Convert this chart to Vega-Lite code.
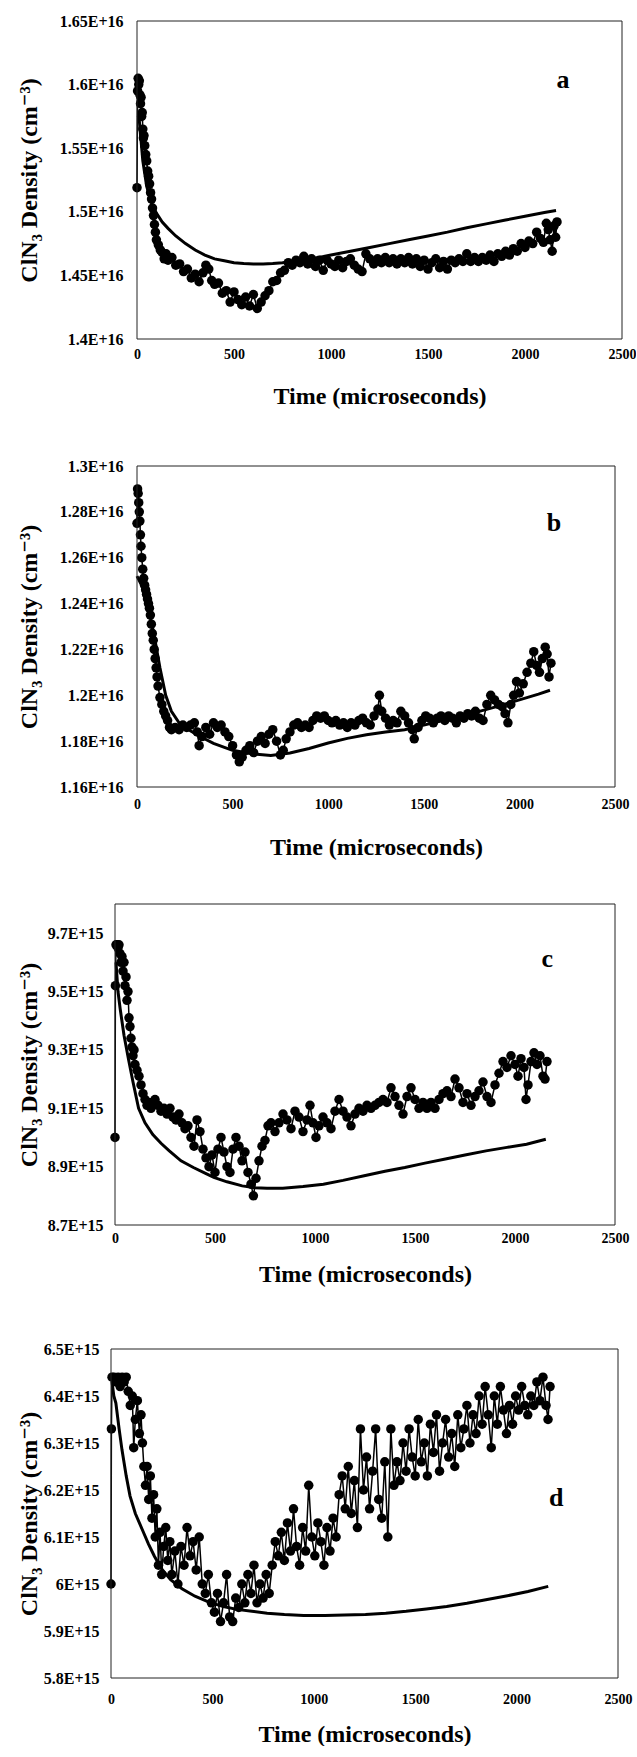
{
  "$schema": "https://vega.github.io/schema/vega-lite/v6.json",
  "background": "white",
  "padding": {"left": 17, "top": 13, "right": 0, "bottom": 0},
  "config": {
    "font": "Liberation Serif",
    "view": {"stroke": null},
    "axis": {
      "grid": false,
      "domain": false,
      "ticks": false,
      "labelFont": "Liberation Serif",
      "labelFontWeight": "bold",
      "labelColor": "black",
      "labelOverlap": false,
      "titleFont": "Liberation Serif, DejaVu Serif",
      "titleFontWeight": "bold",
      "titleFontSize": 24,
      "titleColor": "black"
    },
    "axisX": {"labelFontSize": 14, "labelFlush": false, "format": "d"},
    "axisY": {"labelFontSize": 16}
  },
  "datasets": {
    "obsA": [
      {"t":0,"v":1.519e16},{"t":3,"v":1.595e16},{"t":6,"v":1.605e16},{"t":9,"v":1.600e16},{"t":12,"v":1.603e16},
      {"t":15,"v":1.592e16},{"t":18,"v":1.585e16},{"t":21,"v":1.590e16},{"t":24,"v":1.575e16},{"t":27,"v":1.578e16},
      {"t":30,"v":1.565e16},{"t":33,"v":1.558e16},{"t":36,"v":1.560e16},{"t":40,"v":1.552e16},{"t":45,"v":1.545e16},
      {"t":50,"v":1.540e16},{"t":55,"v":1.532e16},{"t":60,"v":1.528e16},{"t":65,"v":1.522e16},{"t":70,"v":1.515e16},
      {"t":75,"v":1.510e16},{"t":80,"v":1.503e16},{"t":85,"v":1.497e16},{"t":90,"v":1.490e16},{"t":95,"v":1.484e16},
      {"t":100,"v":1.478e16},{"t":110,"v":1.474e16},{"t":120,"v":1.470e16},{"t":130,"v":1.468e16},{"t":140,"v":1.463e16},
      {"t":150,"v":1.467e16},{"t":160,"v":1.462e16},{"t":180,"v":1.464e16},{"t":200,"v":1.458e16},{"t":220,"v":1.459e16},
      {"t":240,"v":1.453e16},{"t":260,"v":1.455e16},{"t":280,"v":1.448e16},{"t":300,"v":1.451e16},{"t":320,"v":1.445e16},
      {"t":340,"v":1.452e16},{"t":355,"v":1.458e16},{"t":370,"v":1.455e16},{"t":385,"v":1.446e16},{"t":400,"v":1.443e16},
      {"t":420,"v":1.444e16},{"t":440,"v":1.436e16},{"t":460,"v":1.438e16},{"t":480,"v":1.429e16},{"t":500,"v":1.437e16},
      {"t":520,"v":1.431e16},{"t":540,"v":1.427e16},{"t":560,"v":1.433e16},{"t":580,"v":1.426e16},{"t":600,"v":1.435e16},
      {"t":620,"v":1.424e16},{"t":640,"v":1.429e16},{"t":660,"v":1.434e16},{"t":680,"v":1.438e16},{"t":700,"v":1.445e16},
      {"t":720,"v":1.446e16},{"t":740,"v":1.452e16},{"t":760,"v":1.454e16},{"t":780,"v":1.460e16},{"t":800,"v":1.458e16},
      {"t":820,"v":1.462e16},{"t":840,"v":1.460e16},{"t":860,"v":1.465e16},{"t":880,"v":1.459e16},{"t":900,"v":1.463e16},
      {"t":920,"v":1.457e16},{"t":940,"v":1.462e16},{"t":960,"v":1.454e16},{"t":980,"v":1.462e16},{"t":1000,"v":1.459e16},
      {"t":1020,"v":1.457e16},{"t":1040,"v":1.462e16},{"t":1060,"v":1.456e16},{"t":1080,"v":1.461e16},{"t":1100,"v":1.463e16},
      {"t":1120,"v":1.458e16},{"t":1140,"v":1.455e16},{"t":1160,"v":1.453e16},{"t":1180,"v":1.467e16},{"t":1200,"v":1.463e16},
      {"t":1220,"v":1.459e16},{"t":1240,"v":1.463e16},{"t":1260,"v":1.460e16},{"t":1280,"v":1.464e16},{"t":1300,"v":1.460e16},
      {"t":1320,"v":1.463e16},{"t":1340,"v":1.459e16},{"t":1360,"v":1.463e16},{"t":1380,"v":1.460e16},{"t":1400,"v":1.464e16},
      {"t":1420,"v":1.459e16},{"t":1440,"v":1.463e16},{"t":1460,"v":1.457e16},{"t":1480,"v":1.462e16},{"t":1500,"v":1.455e16},
      {"t":1520,"v":1.460e16},{"t":1540,"v":1.463e16},{"t":1560,"v":1.456e16},{"t":1580,"v":1.461e16},{"t":1600,"v":1.455e16},
      {"t":1620,"v":1.462e16},{"t":1640,"v":1.460e16},{"t":1660,"v":1.463e16},{"t":1680,"v":1.461e16},{"t":1700,"v":1.467e16},
      {"t":1720,"v":1.461e16},{"t":1740,"v":1.464e16},{"t":1760,"v":1.461e16},{"t":1780,"v":1.464e16},{"t":1800,"v":1.462e16},
      {"t":1820,"v":1.466e16},{"t":1840,"v":1.461e16},{"t":1860,"v":1.467e16},{"t":1880,"v":1.465e16},{"t":1900,"v":1.469e16},
      {"t":1920,"v":1.466e16},{"t":1940,"v":1.471e16},{"t":1960,"v":1.469e16},{"t":1980,"v":1.475e16},{"t":2000,"v":1.472e16},
      {"t":2020,"v":1.477e16},{"t":2040,"v":1.475e16},{"t":2060,"v":1.484e16},{"t":2080,"v":1.479e16},{"t":2095,"v":1.476e16},
      {"t":2110,"v":1.491e16},{"t":2120,"v":1.486e16},{"t":2130,"v":1.478e16},{"t":2140,"v":1.469e16},{"t":2150,"v":1.489e16},
      {"t":2158,"v":1.480e16},{"t":2165,"v":1.492e16}
    ],
    "fitA": [
      {"t":10,"v":1.575e16},{"t":30,"v":1.540e16},{"t":50,"v":1.520e16},{"t":75,"v":1.507e16},{"t":100,"v":1.499e16},
      {"t":130,"v":1.492e16},{"t":160,"v":1.487e16},{"t":200,"v":1.481e16},{"t":250,"v":1.475e16},{"t":300,"v":1.470e16},
      {"t":350,"v":1.466e16},{"t":400,"v":1.463e16},{"t":450,"v":1.4615e16},{"t":500,"v":1.460e16},{"t":550,"v":1.4593e16},
      {"t":600,"v":1.459e16},{"t":650,"v":1.459e16},{"t":700,"v":1.4593e16},{"t":750,"v":1.460e16},{"t":800,"v":1.461e16},
      {"t":900,"v":1.463e16},{"t":1000,"v":1.466e16},{"t":1100,"v":1.469e16},{"t":1200,"v":1.472e16},{"t":1300,"v":1.475e16},
      {"t":1400,"v":1.478e16},{"t":1500,"v":1.481e16},{"t":1600,"v":1.484e16},{"t":1700,"v":1.4875e16},{"t":1800,"v":1.4905e16},
      {"t":1900,"v":1.4935e16},{"t":2000,"v":1.4965e16},{"t":2100,"v":1.4995e16},{"t":2160,"v":1.501e16}
    ],
    "obsB": [
      {"t":0,"v":1.275e16},{"t":3,"v":1.290e16},{"t":6,"v":1.288e16},{"t":9,"v":1.284e16},{"t":12,"v":1.280e16},
      {"t":15,"v":1.276e16},{"t":18,"v":1.270e16},{"t":21,"v":1.265e16},{"t":25,"v":1.260e16},{"t":30,"v":1.255e16},
      {"t":35,"v":1.251e16},{"t":40,"v":1.248e16},{"t":45,"v":1.246e16},{"t":50,"v":1.244e16},{"t":55,"v":1.242e16},
      {"t":60,"v":1.240e16},{"t":65,"v":1.238e16},{"t":70,"v":1.235e16},{"t":75,"v":1.231e16},{"t":80,"v":1.227e16},
      {"t":85,"v":1.224e16},{"t":90,"v":1.220e16},{"t":95,"v":1.216e16},{"t":100,"v":1.212e16},{"t":105,"v":1.208e16},
      {"t":110,"v":1.204e16},{"t":120,"v":1.199e16},{"t":130,"v":1.196e16},{"t":140,"v":1.193e16},{"t":150,"v":1.191e16},
      {"t":160,"v":1.189e16},{"t":170,"v":1.186e16},{"t":180,"v":1.185e16},{"t":200,"v":1.186e16},{"t":220,"v":1.185e16},
      {"t":240,"v":1.187e16},{"t":260,"v":1.186e16},{"t":280,"v":1.187e16},{"t":300,"v":1.188e16},{"t":315,"v":1.184e16},
      {"t":325,"v":1.178e16},{"t":340,"v":1.182e16},{"t":360,"v":1.186e16},{"t":380,"v":1.183e16},{"t":400,"v":1.188e16},
      {"t":420,"v":1.186e16},{"t":440,"v":1.187e16},{"t":460,"v":1.184e16},{"t":480,"v":1.182e16},{"t":500,"v":1.178e16},
      {"t":520,"v":1.174e16},{"t":535,"v":1.171e16},{"t":550,"v":1.173e16},{"t":570,"v":1.176e16},{"t":590,"v":1.178e16},
      {"t":610,"v":1.175e16},{"t":630,"v":1.180e16},{"t":650,"v":1.182e16},{"t":670,"v":1.179e16},{"t":690,"v":1.183e16},
      {"t":710,"v":1.185e16},{"t":730,"v":1.180e16},{"t":750,"v":1.174e16},{"t":765,"v":1.176e16},{"t":780,"v":1.181e16},
      {"t":800,"v":1.184e16},{"t":820,"v":1.187e16},{"t":840,"v":1.188e16},{"t":860,"v":1.186e16},{"t":880,"v":1.187e16},
      {"t":900,"v":1.186e16},{"t":920,"v":1.189e16},{"t":940,"v":1.191e16},{"t":960,"v":1.190e16},{"t":980,"v":1.191e16},
      {"t":1000,"v":1.189e16},{"t":1020,"v":1.188e16},{"t":1040,"v":1.189e16},{"t":1060,"v":1.187e16},{"t":1080,"v":1.188e16},
      {"t":1100,"v":1.186e16},{"t":1120,"v":1.188e16},{"t":1140,"v":1.187e16},{"t":1160,"v":1.189e16},{"t":1180,"v":1.190e16},
      {"t":1200,"v":1.188e16},{"t":1220,"v":1.187e16},{"t":1240,"v":1.191e16},{"t":1260,"v":1.194e16},{"t":1268,"v":1.200e16},
      {"t":1280,"v":1.193e16},{"t":1300,"v":1.190e16},{"t":1320,"v":1.187e16},{"t":1340,"v":1.189e16},{"t":1360,"v":1.188e16},
      {"t":1380,"v":1.193e16},{"t":1400,"v":1.191e16},{"t":1420,"v":1.188e16},{"t":1440,"v":1.185e16},{"t":1450,"v":1.181e16},
      {"t":1470,"v":1.186e16},{"t":1490,"v":1.189e16},{"t":1510,"v":1.191e16},{"t":1530,"v":1.190e16},{"t":1550,"v":1.188e16},
      {"t":1570,"v":1.190e16},{"t":1590,"v":1.191e16},{"t":1610,"v":1.189e16},{"t":1630,"v":1.191e16},{"t":1650,"v":1.190e16},
      {"t":1670,"v":1.188e16},{"t":1690,"v":1.191e16},{"t":1710,"v":1.190e16},{"t":1730,"v":1.192e16},{"t":1750,"v":1.191e16},
      {"t":1770,"v":1.193e16},{"t":1790,"v":1.190e16},{"t":1810,"v":1.189e16},{"t":1830,"v":1.196e16},{"t":1850,"v":1.200e16},
      {"t":1870,"v":1.198e16},{"t":1890,"v":1.196e16},{"t":1910,"v":1.195e16},{"t":1925,"v":1.192e16},{"t":1940,"v":1.188e16},
      {"t":1955,"v":1.196e16},{"t":1970,"v":1.200e16},{"t":1985,"v":1.206e16},{"t":2000,"v":1.201e16},{"t":2020,"v":1.205e16},
      {"t":2040,"v":1.210e16},{"t":2060,"v":1.214e16},{"t":2075,"v":1.219e16},{"t":2090,"v":1.213e16},{"t":2105,"v":1.210e16},
      {"t":2120,"v":1.216e16},{"t":2135,"v":1.221e16},{"t":2145,"v":1.218e16},{"t":2155,"v":1.208e16},{"t":2165,"v":1.214e16}
    ],
    "fitB": [
      {"t":0,"v":1.252e16},{"t":30,"v":1.247e16},{"t":60,"v":1.238e16},{"t":90,"v":1.226e16},{"t":120,"v":1.212e16},
      {"t":150,"v":1.200e16},{"t":180,"v":1.193e16},{"t":220,"v":1.188e16},{"t":270,"v":1.185e16},{"t":330,"v":1.182e16},
      {"t":400,"v":1.179e16},{"t":500,"v":1.176e16},{"t":600,"v":1.1745e16},{"t":700,"v":1.1737e16},{"t":800,"v":1.1748e16},
      {"t":900,"v":1.1768e16},{"t":1000,"v":1.1792e16},{"t":1100,"v":1.1812e16},{"t":1200,"v":1.1828e16},{"t":1300,"v":1.1840e16},
      {"t":1400,"v":1.1850e16},{"t":1500,"v":1.1870e16},{"t":1600,"v":1.1890e16},{"t":1700,"v":1.1910e16},{"t":1800,"v":1.1932e16},
      {"t":1900,"v":1.1955e16},{"t":2000,"v":1.1980e16},{"t":2100,"v":1.2005e16},{"t":2160,"v":1.2022e16}
    ],
    "obsC": [
      {"t":0,"v":9.00e15},{"t":2,"v":9.52e15},{"t":5,"v":9.66e15},{"t":10,"v":9.66e15},{"t":15,"v":9.65e15},
      {"t":20,"v":9.66e15},{"t":25,"v":9.63e15},{"t":30,"v":9.60e15},{"t":35,"v":9.62e15},{"t":40,"v":9.57e15},
      {"t":45,"v":9.60e15},{"t":50,"v":9.52e15},{"t":55,"v":9.55e15},{"t":60,"v":9.47e15},{"t":65,"v":9.50e15},
      {"t":70,"v":9.41e15},{"t":75,"v":9.38e15},{"t":80,"v":9.34e15},{"t":85,"v":9.31e15},{"t":90,"v":9.28e15},
      {"t":95,"v":9.30e15},{"t":100,"v":9.25e15},{"t":110,"v":9.23e15},{"t":120,"v":9.21e15},{"t":130,"v":9.18e15},
      {"t":140,"v":9.15e15},{"t":150,"v":9.13e15},{"t":160,"v":9.11e15},{"t":170,"v":9.12e15},{"t":180,"v":9.10e15},
      {"t":190,"v":9.12e15},{"t":200,"v":9.13e15},{"t":215,"v":9.11e15},{"t":230,"v":9.09e15},{"t":245,"v":9.10e15},
      {"t":260,"v":9.08e15},{"t":275,"v":9.10e15},{"t":290,"v":9.07e15},{"t":305,"v":9.06e15},{"t":320,"v":9.08e15},
      {"t":335,"v":9.05e15},{"t":350,"v":9.03e15},{"t":365,"v":9.04e15},{"t":380,"v":9.00e15},{"t":395,"v":8.97e15},
      {"t":410,"v":9.06e15},{"t":425,"v":9.02e15},{"t":440,"v":8.96e15},{"t":455,"v":8.93e15},{"t":470,"v":8.90e15},
      {"t":485,"v":8.94e15},{"t":500,"v":8.88e15},{"t":515,"v":8.96e15},{"t":530,"v":9.00e15},{"t":545,"v":8.95e15},
      {"t":560,"v":8.90e15},{"t":575,"v":8.88e15},{"t":590,"v":8.96e15},{"t":605,"v":9.00e15},{"t":620,"v":8.97e15},
      {"t":635,"v":8.92e15},{"t":650,"v":8.95e15},{"t":665,"v":8.88e15},{"t":680,"v":8.84e15},{"t":692,"v":8.80e15},
      {"t":705,"v":8.86e15},{"t":720,"v":8.92e15},{"t":735,"v":8.97e15},{"t":750,"v":8.99e15},{"t":765,"v":9.04e15},
      {"t":780,"v":9.05e15},{"t":800,"v":9.02e15},{"t":820,"v":9.05e15},{"t":840,"v":9.08e15},{"t":860,"v":9.06e15},
      {"t":880,"v":9.03e15},{"t":900,"v":9.09e15},{"t":920,"v":9.07e15},{"t":940,"v":9.02e15},{"t":960,"v":9.06e15},
      {"t":975,"v":9.11e15},{"t":990,"v":9.05e15},{"t":1005,"v":9.00e15},{"t":1020,"v":9.04e15},{"t":1040,"v":9.07e15},
      {"t":1060,"v":9.05e15},{"t":1080,"v":9.03e15},{"t":1100,"v":9.09e15},{"t":1120,"v":9.13e15},{"t":1140,"v":9.09e15},
      {"t":1160,"v":9.07e15},{"t":1180,"v":9.04e15},{"t":1200,"v":9.08e15},{"t":1220,"v":9.10e15},{"t":1240,"v":9.09e15},
      {"t":1260,"v":9.11e15},{"t":1280,"v":9.10e15},{"t":1300,"v":9.11e15},{"t":1320,"v":9.12e15},{"t":1340,"v":9.13e15},
      {"t":1360,"v":9.12e15},{"t":1380,"v":9.17e15},{"t":1400,"v":9.14e15},{"t":1420,"v":9.11e15},{"t":1440,"v":9.08e15},
      {"t":1460,"v":9.14e15},{"t":1480,"v":9.17e15},{"t":1500,"v":9.13e15},{"t":1520,"v":9.10e15},{"t":1540,"v":9.12e15},
      {"t":1560,"v":9.10e15},{"t":1580,"v":9.12e15},{"t":1600,"v":9.10e15},{"t":1620,"v":9.13e15},{"t":1640,"v":9.15e15},
      {"t":1660,"v":9.16e15},{"t":1680,"v":9.14e15},{"t":1700,"v":9.20e15},{"t":1720,"v":9.17e15},{"t":1740,"v":9.12e15},
      {"t":1760,"v":9.15e15},{"t":1780,"v":9.11e15},{"t":1800,"v":9.14e15},{"t":1820,"v":9.16e15},{"t":1840,"v":9.19e15},
      {"t":1860,"v":9.14e15},{"t":1880,"v":9.12e15},{"t":1900,"v":9.18e15},{"t":1920,"v":9.22e15},{"t":1940,"v":9.26e15},
      {"t":1960,"v":9.24e15},{"t":1980,"v":9.28e15},{"t":2000,"v":9.25e15},{"t":2015,"v":9.21e15},{"t":2030,"v":9.27e15},
      {"t":2045,"v":9.24e15},{"t":2055,"v":9.13e15},{"t":2065,"v":9.18e15},{"t":2080,"v":9.26e15},{"t":2095,"v":9.29e15},
      {"t":2110,"v":9.25e15},{"t":2125,"v":9.28e15},{"t":2140,"v":9.21e15},{"t":2150,"v":9.20e15},{"t":2160,"v":9.26e15}
    ],
    "fitC": [
      {"t":5,"v":9.60e15},{"t":15,"v":9.50e15},{"t":26,"v":9.44e15},{"t":45,"v":9.35e15},{"t":67,"v":9.27e15},
      {"t":90,"v":9.19e15},{"t":118,"v":9.10e15},{"t":150,"v":9.05e15},{"t":189,"v":9.01e15},{"t":230,"v":8.98e15},
      {"t":270,"v":8.955e15},{"t":330,"v":8.92e15},{"t":392,"v":8.897e15},{"t":450,"v":8.878e15},{"t":494,"v":8.863e15},
      {"t":560,"v":8.848e15},{"t":636,"v":8.834e15},{"t":700,"v":8.828e15},{"t":760,"v":8.826e15},{"t":839,"v":8.826e15},
      {"t":940,"v":8.832e15},{"t":1042,"v":8.840e15},{"t":1140,"v":8.853e15},{"t":1246,"v":8.869e15},{"t":1350,"v":8.884e15},
      {"t":1449,"v":8.897e15},{"t":1550,"v":8.912e15},{"t":1652,"v":8.926e15},{"t":1750,"v":8.940e15},{"t":1855,"v":8.954e15},
      {"t":1960,"v":8.966e15},{"t":2058,"v":8.977e15},{"t":2154,"v":8.994e15}
    ],
    "obsD": [
      {"t":0,"v":6.00e15},{"t":2,"v":6.33e15},{"t":5,"v":6.44e15},{"t":15,"v":6.44e15},{"t":25,"v":6.43e15},
      {"t":35,"v":6.44e15},{"t":45,"v":6.42e15},{"t":55,"v":6.44e15},{"t":65,"v":6.43e15},{"t":75,"v":6.44e15},
      {"t":85,"v":6.41e15},{"t":95,"v":6.38e15},{"t":105,"v":6.40e15},{"t":112,"v":6.29e15},{"t":120,"v":6.35e15},
      {"t":130,"v":6.39e15},{"t":140,"v":6.32e15},{"t":148,"v":6.36e15},{"t":155,"v":6.30e15},{"t":162,"v":6.25e15},
      {"t":170,"v":6.21e15},{"t":178,"v":6.25e15},{"t":186,"v":6.18e15},{"t":194,"v":6.23e15},{"t":202,"v":6.14e15},
      {"t":210,"v":6.19e15},{"t":218,"v":6.10e15},{"t":226,"v":6.16e15},{"t":234,"v":6.04e15},{"t":242,"v":6.11e15},
      {"t":250,"v":6.02e15},{"t":260,"v":6.08e15},{"t":270,"v":6.12e15},{"t":280,"v":6.05e15},{"t":290,"v":6.09e15},
      {"t":300,"v":6.02e15},{"t":315,"v":6.07e15},{"t":330,"v":6.00e15},{"t":345,"v":6.08e15},{"t":360,"v":6.04e15},
      {"t":375,"v":6.12e15},{"t":390,"v":6.06e15},{"t":405,"v":6.09e15},{"t":420,"v":6.03e15},{"t":435,"v":6.10e15},
      {"t":450,"v":6.00e15},{"t":465,"v":5.98e15},{"t":480,"v":6.02e15},{"t":495,"v":5.96e15},{"t":510,"v":5.94e15},
      {"t":525,"v":5.98e15},{"t":540,"v":5.92e15},{"t":555,"v":5.96e15},{"t":570,"v":6.02e15},{"t":585,"v":5.93e15},
      {"t":600,"v":5.92e15},{"t":615,"v":5.97e15},{"t":630,"v":5.95e15},{"t":645,"v":6.00e15},{"t":660,"v":5.96e15},
      {"t":675,"v":6.02e15},{"t":690,"v":5.98e15},{"t":705,"v":6.04e15},{"t":720,"v":5.96e15},{"t":735,"v":6.00e15},
      {"t":750,"v":5.97e15},{"t":765,"v":6.02e15},{"t":780,"v":5.98e15},{"t":795,"v":6.04e15},{"t":810,"v":6.09e15},
      {"t":825,"v":6.06e15},{"t":840,"v":6.11e15},{"t":855,"v":6.05e15},{"t":870,"v":6.13e15},{"t":885,"v":6.07e15},
      {"t":900,"v":6.16e15},{"t":915,"v":6.08e15},{"t":930,"v":6.04e15},{"t":945,"v":6.12e15},{"t":960,"v":6.07e15},
      {"t":975,"v":6.21e15},{"t":990,"v":6.10e15},{"t":1005,"v":6.06e15},{"t":1020,"v":6.13e15},{"t":1035,"v":6.09e15},
      {"t":1050,"v":6.04e15},{"t":1065,"v":6.12e15},{"t":1080,"v":6.07e15},{"t":1095,"v":6.14e15},{"t":1110,"v":6.10e15},
      {"t":1125,"v":6.19e15},{"t":1140,"v":6.23e15},{"t":1155,"v":6.16e15},{"t":1170,"v":6.25e15},{"t":1185,"v":6.15e15},
      {"t":1200,"v":6.22e15},{"t":1215,"v":6.12e15},{"t":1230,"v":6.33e15},{"t":1245,"v":6.20e15},{"t":1260,"v":6.27e15},
      {"t":1275,"v":6.16e15},{"t":1290,"v":6.24e15},{"t":1305,"v":6.33e15},{"t":1320,"v":6.18e15},{"t":1335,"v":6.14e15},
      {"t":1350,"v":6.26e15},{"t":1365,"v":6.10e15},{"t":1380,"v":6.33e15},{"t":1395,"v":6.21e15},{"t":1410,"v":6.26e15},
      {"t":1425,"v":6.22e15},{"t":1440,"v":6.30e15},{"t":1455,"v":6.24e15},{"t":1470,"v":6.33e15},{"t":1485,"v":6.27e15},
      {"t":1500,"v":6.23e15},{"t":1515,"v":6.35e15},{"t":1530,"v":6.26e15},{"t":1545,"v":6.30e15},{"t":1560,"v":6.23e15},
      {"t":1575,"v":6.34e15},{"t":1590,"v":6.28e15},{"t":1605,"v":6.36e15},{"t":1620,"v":6.24e15},{"t":1635,"v":6.30e15},
      {"t":1650,"v":6.35e15},{"t":1665,"v":6.27e15},{"t":1680,"v":6.32e15},{"t":1695,"v":6.25e15},{"t":1710,"v":6.36e15},
      {"t":1725,"v":6.29e15},{"t":1740,"v":6.33e15},{"t":1755,"v":6.38e15},{"t":1770,"v":6.30e15},{"t":1785,"v":6.36e15},
      {"t":1800,"v":6.32e15},{"t":1815,"v":6.40e15},{"t":1830,"v":6.34e15},{"t":1845,"v":6.42e15},{"t":1860,"v":6.36e15},
      {"t":1875,"v":6.29e15},{"t":1890,"v":6.40e15},{"t":1905,"v":6.34e15},{"t":1920,"v":6.42e15},{"t":1935,"v":6.37e15},
      {"t":1950,"v":6.32e15},{"t":1965,"v":6.38e15},{"t":1980,"v":6.34e15},{"t":1995,"v":6.40e15},{"t":2010,"v":6.37e15},
      {"t":2025,"v":6.42e15},{"t":2040,"v":6.38e15},{"t":2055,"v":6.36e15},{"t":2070,"v":6.40e15},{"t":2085,"v":6.38e15},
      {"t":2100,"v":6.43e15},{"t":2115,"v":6.39e15},{"t":2130,"v":6.44e15},{"t":2145,"v":6.38e15},{"t":2155,"v":6.35e15},
      {"t":2165,"v":6.42e15}
    ],
    "fitD": [
      {"t":5,"v":6.43e15},{"t":14,"v":6.40e15},{"t":24,"v":6.385e15},{"t":40,"v":6.33e15},{"t":54,"v":6.286e15},
      {"t":75,"v":6.23e15},{"t":94,"v":6.187e15},{"t":120,"v":6.15e15},{"t":154,"v":6.116e15},{"t":185,"v":6.085e15},
      {"t":214,"v":6.059e15},{"t":250,"v":6.032e15},{"t":294,"v":6.009e15},{"t":350,"v":5.99e15},{"t":414,"v":5.974e15},
      {"t":480,"v":5.962e15},{"t":554,"v":5.952e15},{"t":620,"v":5.946e15},{"t":695,"v":5.942e15},{"t":770,"v":5.938e15},
      {"t":855,"v":5.935e15},{"t":950,"v":5.933e15},{"t":1055,"v":5.933e15},{"t":1150,"v":5.934e15},{"t":1255,"v":5.935e15},
      {"t":1355,"v":5.938e15},{"t":1455,"v":5.942e15},{"t":1555,"v":5.947e15},{"t":1655,"v":5.952e15},{"t":1755,"v":5.959e15},
      {"t":1855,"v":5.967e15},{"t":1955,"v":5.975e15},{"t":2056,"v":5.984e15},{"t":2156,"v":5.995e15}
    ]
  },
  "spacing": 44,
  "vconcat": [
    {
      "spacing": 50,
      "vconcat": [
        {
          "width": 511,
          "height": 318,
          "layer": [
            {
              "encoding": {
                "x": {"field": "t", "type": "quantitative",
                      "scale": {"domain": [0, 2500], "nice": false, "range": [26, 511]},
                      "axis": {"values": [0, 500, 1000, 1500, 2000, 2500], "title": "Time (microseconds)", "labelPadding": 8, "titlePadding": 23}},
                "y": {"field": "v", "type": "quantitative",
                      "scale": {"domain": [1.4e16, 1.65e16], "nice": false, "zero": false},
                      "axis": {"values": [1.4e16, 1.45e16, 1.5e16, 1.55e16, 1.6e16, 1.65e16],
                               "labelExpr": "format(datum.value / 1e16, '.2~f') + 'E+16'", "labelOverlap": false,
                               "title": "ClN₃ Density (cm⁻³)", "labelPadding": 14, "titlePadding": 18, "offset": -26}}
              },
              "layer": [
                {"data": {"name": "obsA"}, "mark": {"type": "line", "color": "black", "strokeWidth": 1.5}},
                {"data": {"name": "obsA"}, "mark": {"type": "point", "shape": "circle", "filled": true, "size": 90, "color": "black", "opacity": 1}},
                {"data": {"name": "fitA"}, "mark": {"type": "line", "color": "black", "strokeWidth": 3}},
                {"data": {"values": [{"t": 2196, "v": 1.604e16, "panel": "a"}]},
                 "mark": {"type": "text", "font": "Liberation Serif", "fontWeight": "bold", "fontSize": 26, "color": "black", "baseline": "middle"},
                 "encoding": {"text": {"field": "panel"}}}
              ]
            },
            {"data": {"values": [{}]},
             "mark": {"type": "rect", "fill": "transparent", "stroke": "#222", "strokeWidth": 1},
             "encoding": {"x": {"datum": 0, "type": "quantitative"}, "x2": {"datum": 2500}, "y": {"datum": 1.4e16, "type": "quantitative"}, "y2": {"datum": 1.65e16}}}
          ]
        },
        {
          "width": 504,
          "height": 321,
          "layer": [
            {
              "encoding": {
                "x": {"field": "t", "type": "quantitative",
                      "scale": {"domain": [0, 2500], "nice": false, "range": [26, 504]},
                      "axis": {"values": [0, 500, 1000, 1500, 2000, 2500], "title": "Time (microseconds)", "labelPadding": 10, "titlePadding": 24}},
                "y": {"field": "v", "type": "quantitative",
                      "scale": {"domain": [1.16e16, 1.3e16], "nice": false, "zero": false},
                      "axis": {"values": [1.16e16, 1.18e16, 1.2e16, 1.22e16, 1.24e16, 1.26e16, 1.28e16, 1.3e16],
                               "labelExpr": "format(datum.value / 1e16, '.2~f') + 'E+16'", "labelOverlap": false,
                               "title": "ClN₃ Density (cm⁻³)", "labelPadding": 14, "titlePadding": 18, "offset": -26}}
              },
              "layer": [
                {"data": {"name": "obsB"}, "mark": {"type": "line", "color": "black", "strokeWidth": 1.5}},
                {"data": {"name": "obsB"}, "mark": {"type": "point", "shape": "circle", "filled": true, "size": 90, "color": "black", "opacity": 1}},
                {"data": {"name": "fitB"}, "mark": {"type": "line", "color": "black", "strokeWidth": 3}},
                {"data": {"values": [{"t": 2181, "v": 1.275e16, "panel": "b"}]},
                 "mark": {"type": "text", "font": "Liberation Serif", "fontWeight": "bold", "fontSize": 26, "color": "black", "baseline": "middle"},
                 "encoding": {"text": {"field": "panel"}}}
              ]
            },
            {"data": {"values": [{}]},
             "mark": {"type": "rect", "fill": "transparent", "stroke": "#222", "strokeWidth": 1},
             "encoding": {"x": {"datum": 0, "type": "quantitative"}, "x2": {"datum": 2500}, "y": {"datum": 1.16e16, "type": "quantitative"}, "y2": {"datum": 1.3e16}}}
          ]
        }
      ]
    },
    {
      "spacing": 55,
      "vconcat": [
        {
          "width": 504,
          "height": 321,
          "layer": [
            {
              "encoding": {
                "x": {"field": "t", "type": "quantitative",
                      "scale": {"domain": [0, 2500], "nice": false, "range": [4, 504]},
                      "axis": {"values": [0, 500, 1000, 1500, 2000, 2500], "title": "Time (microseconds)", "labelPadding": 6, "titlePadding": 17}},
                "y": {"field": "v", "type": "quantitative",
                      "scale": {"domain": [8.7e15, 9.8e15], "nice": false, "zero": false},
                      "axis": {"values": [8.7e15, 8.8e15, 8.9e15, 9.0e15, 9.1e15, 9.2e15, 9.3e15, 9.4e15, 9.5e15, 9.6e15, 9.7e15, 9.8e15],
                               "labelExpr": "format(datum.value / 1e15, '.1~f') + 'E+15'", "labelOverlap": false,
                               "title": "ClN₃ Density (cm⁻³)", "labelPadding": 12, "titlePadding": 6, "offset": -4}}
              },
              "layer": [
                {"data": {"name": "obsC"}, "mark": {"type": "line", "color": "black", "strokeWidth": 1.5}},
                {"data": {"name": "obsC"}, "mark": {"type": "point", "shape": "circle", "filled": true, "size": 90, "color": "black", "opacity": 1}},
                {"data": {"name": "fitC"}, "mark": {"type": "line", "color": "black", "strokeWidth": 3}},
                {"data": {"values": [{"t": 2161, "v": 9.611e15, "panel": "c"}]},
                 "mark": {"type": "text", "font": "Liberation Serif", "fontWeight": "bold", "fontSize": 26, "color": "black", "baseline": "middle"},
                 "encoding": {"text": {"field": "panel"}}}
              ]
            },
            {"data": {"values": [{}]},
             "mark": {"type": "rect", "fill": "transparent", "stroke": "#222", "strokeWidth": 1},
             "encoding": {"x": {"datum": 0, "type": "quantitative"}, "x2": {"datum": 2500}, "y": {"datum": 8.7e15, "type": "quantitative"}, "y2": {"datum": 9.8e15}}}
          ]
        },
        {
          "width": 507,
          "height": 329,
          "layer": [
            {
              "encoding": {
                "x": {"field": "t", "type": "quantitative",
                      "scale": {"domain": [0, 2500], "nice": false},
                      "axis": {"values": [0, 500, 1000, 1500, 2000, 2500], "title": "Time (microseconds)", "labelPadding": 14, "titlePadding": 16}},
                "y": {"field": "v", "type": "quantitative",
                      "scale": {"domain": [5.8e15, 6.5e15], "nice": false, "zero": false},
                      "axis": {"values": [5.8e15, 5.9e15, 6.0e15, 6.1e15, 6.2e15, 6.3e15, 6.4e15, 6.5e15],
                               "labelExpr": "format(datum.value / 1e15, '.1~f') + 'E+15'", "labelOverlap": false,
                               "title": "ClN₃ Density (cm⁻³)", "labelPadding": 12, "titlePadding": 2}}
              },
              "layer": [
                {"data": {"name": "obsD"}, "mark": {"type": "line", "color": "black", "strokeWidth": 1.5}},
                {"data": {"name": "obsD"}, "mark": {"type": "point", "shape": "circle", "filled": true, "size": 90, "color": "black", "opacity": 1}},
                {"data": {"name": "fitD"}, "mark": {"type": "line", "color": "black", "strokeWidth": 3}},
                {"data": {"values": [{"t": 2196, "v": 6.183e15, "panel": "d"}]},
                 "mark": {"type": "text", "font": "Liberation Serif", "fontWeight": "bold", "fontSize": 26, "color": "black", "baseline": "middle"},
                 "encoding": {"text": {"field": "panel"}}}
              ]
            },
            {"data": {"values": [{}]},
             "mark": {"type": "rect", "fill": "transparent", "stroke": "#222", "strokeWidth": 1},
             "encoding": {"x": {"datum": 0, "type": "quantitative"}, "x2": {"datum": 2500}, "y": {"datum": 5.8e15, "type": "quantitative"}, "y2": {"datum": 6.5e15}}}
          ]
        }
      ]
    }
  ]
}
